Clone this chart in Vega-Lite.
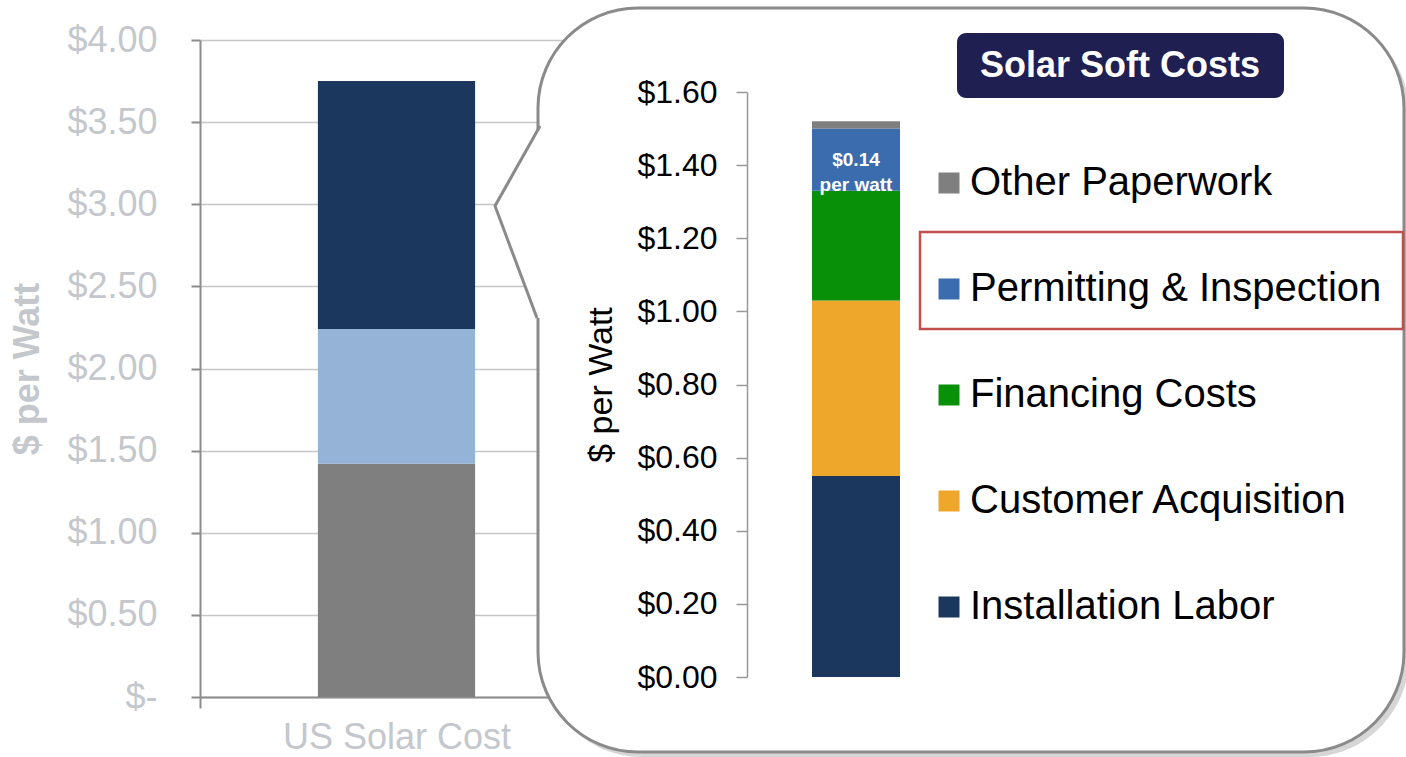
{
  "$schema": "https://vega.github.io/schema/vega-lite/v6.json",
  "width": 1406,
  "height": 757,
  "autosize": {"type": "none"},
  "padding": 0,
  "background": "white",
  "config": {
    "view": {"stroke": null},
    "font": "Liberation Sans",
    "axis": {"labelFont": "Liberation Sans", "titleFont": "Liberation Sans"},
    "legend": {"labelFont": "Liberation Sans"},
    "text": {"font": "Liberation Sans"}
  },
  "datasets": {
    "us": [
      {"chart": "US Solar Cost", "component": "Module", "seq": 1, "cost": 1.42},
      {"chart": "US Solar Cost", "component": "Other Hardware", "seq": 2, "cost": 0.82},
      {"chart": "US Solar Cost", "component": "Soft Costs", "seq": 3, "cost": 1.51}
    ],
    "soft": [
      {"chart": "Soft Costs", "component": "Installation Labor", "seq": 1, "cost": 0.55},
      {"chart": "Soft Costs", "component": "Customer Acquisition", "seq": 2, "cost": 0.48},
      {"chart": "Soft Costs", "component": "Financing Costs", "seq": 3, "cost": 0.30},
      {"chart": "Soft Costs", "component": "Permitting & Inspection", "seq": 4, "cost": 0.17},
      {"chart": "Soft Costs", "component": "Other Paperwork", "seq": 5, "cost": 0.02}
    ]
  },
  "layer": [
    {
      "data": {"name": "us"},
      "layer": [
        {
          "mark": {"type": "bar", "width": {"band": 0.4}},
          "encoding": {
            "x": {
              "field": "chart", "type": "nominal",
              "scale": {"domain": ["US Solar Cost"], "range": [200, 593], "paddingInner": 0, "paddingOuter": 0},
              "axis": {
                "orient": "bottom", "offset": -60, "title": null, "labelAngle": 0, "tickBand": "extent",
                "domainColor": "#8c8c8c", "domainWidth": 2, "tickColor": "#8c8c8c", "tickWidth": 2, "tickSize": 11,
                "labelFontSize": 36, "labelColor": "#c4c7cc", "labelPadding": 12, "labelLimit": 500, "grid": false, "zindex": 0
              }
            },
            "y": {
              "field": "cost", "type": "quantitative", "stack": "zero",
              "scale": {"domain": [0, 4], "range": [697, 40], "nice": false},
              "axis": {
                "orient": "left", "offset": -200, "values": [0, 0.5, 1, 1.5, 2, 2.5, 3, 3.5, 4],
                "labelExpr": "datum.value === 0 ? '$-' : '$' + format(datum.value, '.2f')",
                "labelFontSize": 36, "labelColor": "#c4c7cc", "labelPadding": 34,
                "tickSize": 9, "tickColor": "#8c8c8c", "tickWidth": 2, "domainColor": "#8c8c8c", "domainWidth": 2,
                "grid": true, "gridColor": "#c6c6c6", "gridWidth": 1.5,
                "title": "$ per Watt", "titleFontSize": 36, "titleFontWeight": "bold", "titleColor": "#c4c7cc", "titlePadding": 20,
                "zindex": 0
              }
            },
            "color": {
              "field": "component", "type": "nominal",
              "scale": {"domain": ["Module", "Other Hardware", "Soft Costs"], "range": ["#7f7f7f", "#95b3d7", "#1b375e"]},
              "legend": null
            },
            "order": {"field": "seq", "type": "quantitative"}
          }
        }
      ]
    },
    {
      "data": {"values": [{}]},
      "layer": [
        {
          "mark": {"type": "rect", "fill": "#000000", "opacity": 0.16, "cornerRadius": 100},
          "encoding": {
            "x": {"datum": 542, "type": "quantitative", "scale": {"domain": [0, 1406], "range": [0, 1406], "nice": false, "zero": false}, "axis": null},
            "x2": {"datum": 1409},
            "y": {"datum": 13, "type": "quantitative", "scale": {"domain": [0, 757], "range": [0, 757], "nice": false, "zero": false}, "axis": null},
            "y2": {"datum": 757}
          }
        },
        {
          "mark": {"type": "rect", "fill": "white", "stroke": "#8a8a8a", "strokeWidth": 3, "cornerRadius": 100},
          "encoding": {
            "x": {"datum": 538, "type": "quantitative"},
            "x2": {"datum": 1404},
            "y": {"datum": 8, "type": "quantitative"},
            "y2": {"datum": 752}
          }
        },
        {
          "mark": {"type": "point", "shape": "M540,126L495,206L537,318L549,318L549,126Z", "size": 4, "filled": true, "fill": "white", "strokeWidth": 0, "opacity": 1},
          "encoding": {
            "x": {"datum": 0, "type": "quantitative"},
            "y": {"datum": 0, "type": "quantitative"}
          }
        },
        {
          "mark": {"type": "point", "shape": "M540,126L495,206L537,318", "size": 4, "filled": false, "stroke": "#8a8a8a", "strokeWidth": 3, "opacity": 1},
          "encoding": {
            "x": {"datum": 0, "type": "quantitative"},
            "y": {"datum": 0, "type": "quantitative"}
          }
        },
        {
          "mark": {"type": "rect", "fill": "#1f1f52", "cornerRadius": 9},
          "encoding": {
            "x": {"datum": 957, "type": "quantitative"},
            "x2": {"datum": 1284},
            "y": {"datum": 33, "type": "quantitative"},
            "y2": {"datum": 98}
          }
        },
        {
          "mark": {"type": "text", "text": "Solar Soft Costs", "fontSize": 36, "fontWeight": "bold", "color": "white", "align": "center", "baseline": "middle"},
          "encoding": {
            "x": {"datum": 1120, "type": "quantitative"},
            "y": {"datum": 66, "type": "quantitative"}
          }
        },
        {
          "mark": {"type": "rect", "fill": null, "fillOpacity": 0, "stroke": "#c0504d", "strokeWidth": 2.5},
          "encoding": {
            "x": {"datum": 920, "type": "quantitative"},
            "x2": {"datum": 1403},
            "y": {"datum": 232, "type": "quantitative"},
            "y2": {"datum": 329}
          }
        }
      ]
    },
    {
      "data": {"name": "soft"},
      "layer": [
        {
          "mark": {"type": "bar"},
          "encoding": {
            "x": {
              "field": "chart", "type": "nominal",
              "scale": {"domain": ["Soft Costs"], "range": [812, 900], "paddingInner": 0, "paddingOuter": 0},
              "axis": null
            },
            "y": {
              "field": "cost", "type": "quantitative", "stack": "zero",
              "scale": {"domain": [0, 1.6], "range": [677, 92], "nice": false},
              "axis": {
                "orient": "left", "offset": -747, "values": [0, 0.2, 0.4, 0.6, 0.8, 1, 1.2, 1.4, 1.6],
                "labelExpr": "'$' + format(datum.value, '.2f')",
                "labelFontSize": 32, "labelColor": "#000000", "labelPadding": 19,
                "tickSize": 11, "tickColor": "#999999", "tickWidth": 1.5, "domainColor": "#999999", "domainWidth": 1.5,
                "grid": false,
                "title": "$ per Watt", "titleFontSize": 34, "titleFontWeight": "normal", "titleColor": "#000000", "titlePadding": 18,
                "zindex": 1
              }
            },
            "color": {
              "field": "component", "type": "nominal",
              "scale": {
                "domain": ["Other Paperwork", "Permitting & Inspection", "Financing Costs", "Customer Acquisition", "Installation Labor"],
                "range": ["#7f7f7f", "#3a6cae", "#089108", "#eea72b", "#1b375e"]
              },
              "legend": {
                "orient": "none", "legendX": 929, "legendY": 163, "title": null,
                "symbolType": "square", "symbolSize": 441, "symbolStrokeWidth": 0,
                "labelFontSize": 40, "labelColor": "#000000", "labelOffset": 1, "rowPadding": 66, "padding": 0, "labelLimit": 600
              }
            },
            "order": {"field": "seq", "type": "quantitative"}
          }
        },
        {
          "transform": [{"filter": "datum.component === 'Permitting & Inspection'"}],
          "mark": {"type": "text", "text": ["$0.14", "per watt"], "fontSize": 19, "fontWeight": "bold", "color": "white", "align": "center", "baseline": "middle", "lineHeight": 25},
          "encoding": {
            "x": {"field": "chart", "type": "nominal"},
            "y": {"datum": 1.415, "type": "quantitative"}
          }
        }
      ]
    }
  ],
  "resolve": {
    "scale": {"x": "independent", "y": "independent", "color": "independent"},
    "axis": {"x": "independent", "y": "independent"},
    "legend": {"color": "independent"}
  }
}
